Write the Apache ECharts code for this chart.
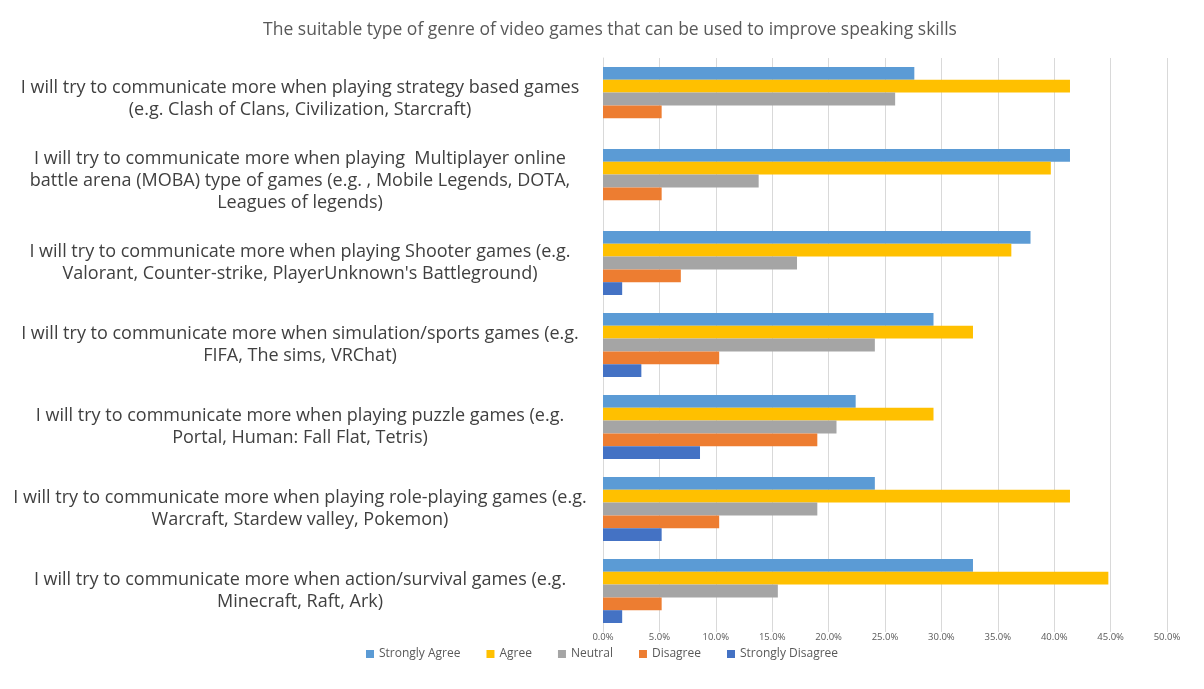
<!DOCTYPE html>
<html>
<head>
<meta charset="utf-8">
<script src="https://cdn.jsdelivr.net/npm/echarts@6/dist/echarts.min.js"></script>
<style>
html,body{margin:0;padding:0;background:#fff;}
#chart{width:1204px;height:689px;}
</style>
</head>
<body>
<div id="chart"></div>
<script>
const titleText = "The suitable type of genre of video games that can be used to improve speaking skills";
const categories = [
  "I will try to communicate more when playing strategy based games\n(e.g. Clash of Clans, Civilization, Starcraft)",
  "I will try to communicate more when playing  Multiplayer online\nbattle arena (MOBA) type of games (e.g. , Mobile Legends, DOTA,\nLeagues of legends)",
  "I will try to communicate more when playing Shooter games (e.g.\nValorant, Counter-strike, PlayerUnknown's Battleground)",
  "I will try to communicate more when simulation/sports games (e.g.\nFIFA, The sims, VRChat)",
  "I will try to communicate more when playing puzzle games (e.g.\nPortal, Human: Fall Flat, Tetris)",
  "I will try to communicate more when playing role-playing games (e.g.\nWarcraft, Stardew valley, Pokemon)",
  "I will try to communicate more when action/survival games (e.g.\nMinecraft, Raft, Ark)"
];
const seriesNames = ["Strongly Agree", "Agree", "Neutral", "Disagree", "Strongly Disagree"];
const stronglyAgree    = [27.6, 41.4, 37.9, 29.3, 22.4, 24.1, 32.8];
const agree            = [41.4, 39.7, 36.2, 32.8, 29.3, 41.4, 44.8];
const neutral          = [25.9, 13.8, 17.2, 24.1, 20.7, 19.0, 15.5];
const disagree         = [5.2, 5.2, 6.9, 10.3, 19.0, 10.3, 5.2];
const stronglyDisagree = [0, 0, 1.7, 3.4, 8.6, 5.2, 1.7];
const xTicks = [0, 5, 10, 15, 20, 25, 30, 35, 40, 45, 50];

const colors = ["#5B9BD5", "#FFC000", "#A5A5A5", "#ED7D31", "#4472C4"];
const values = [stronglyAgree, agree, neutral, disagree, stronglyDisagree];
const font = "'Open Sans', 'Noto Sans', sans-serif";

const chart = echarts.init(document.getElementById('chart'), null, {renderer: 'canvas'});
chart.setOption({
  animation: false,
  backgroundColor: '#fff',
  color: colors,
  title: {
    text: titleText,
    left: 605, top: 16,
    textAlign: 'center',
    textStyle: {fontFamily: font, fontSize: 17.5, fontWeight: 'normal', color: '#595959'}
  },
  legend: {
    data: seriesNames,
    left: 'center', top: 643,
    itemWidth: 8, itemHeight: 8, itemGap: 26,
    icon: 'rect',
    textStyle: {fontFamily: font, fontSize: 12, color: '#595959'}
  },
  grid: {left: 603, right: 37, top: 58, bottom: 57, containLabel: false},
  xAxis: {
    type: 'value',
    min: xTicks[0], max: xTicks[xTicks.length - 1], interval: 5,
    axisLine: {show: false},
    axisTick: {show: false},
    splitLine: {lineStyle: {color: '#D9D9D9', width: 1}},
    axisLabel: {
      fontFamily: font, fontSize: 9.5, color: '#595959', margin: 0,
      formatter: v => v.toFixed(1) + '%'
    }
  },
  yAxis: {
    type: 'category',
    data: categories,
    inverse: true,
    axisLine: {show: true, lineStyle: {color: '#D9D9D9'}},
    axisTick: {show: false},
    axisLabel: {
      fontFamily: font, fontSize: 18, color: '#404040',
      align: 'center', margin: 303, lineHeight: 22
    }
  },
  series: seriesNames.map((n, i) => ({
    name: n,
    type: 'bar',
    data: values[i],
    barGap: '0%',
    barCategoryGap: '22%',
    itemStyle: {color: colors[i]}
  }))
});
</script>
</body>
</html>
